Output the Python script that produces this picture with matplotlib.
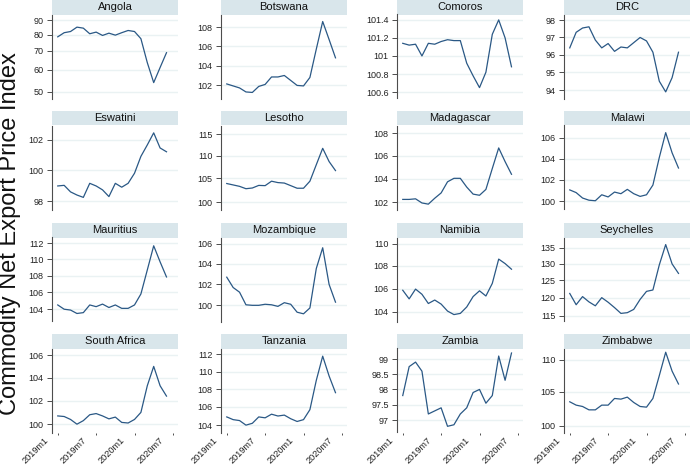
import matplotlib
matplotlib.use("Agg")
import matplotlib.pyplot as plt
from matplotlib.ticker import NullLocator
from matplotlib.transforms import ScaledTranslation

plt.rcParams['font.family'] = ['Liberation Sans', 'DejaVu Sans']

# monthly index, 2019m1 .. 2020m6
months = list(range(18))
xtick_pos = [0, 6, 12, 18]
xtick_labels = ['2019m1', '2019m7', '2020m1', '2020m7']

countries = ['Angola', 'Botswana', 'Comoros', 'DRC',
             'Eswatini', 'Lesotho', 'Madagascar', 'Malawi',
             'Mauritius', 'Mozambique', 'Namibia', 'Seychelles',
             'South Africa', 'Tanzania', 'Zambia', 'Zimbabwe']

angola = [78.5, 81.2, 82.0, 85.0, 84.3, 80.5, 81.6, 79.4, 80.9, 79.6, 81.2, 82.7, 82.0, 77.3, 63.5, 53.9, 61.0, 68.9]
botswana = [102.15, 101.95, 101.75, 101.35, 101.3, 101.9, 102.1, 102.85, 102.85, 103.0, 102.5, 102.0, 101.95, 102.8, 105.7, 108.6, 106.7, 104.8]
comoros = [101.14, 101.12, 101.13, 101.0, 101.14, 101.13, 101.16, 101.18, 101.17, 101.17, 100.92, 100.78, 100.65, 100.82, 101.24, 101.4, 101.2, 100.88]
drc = [96.4, 97.3, 97.55, 97.62, 96.85, 96.4, 96.65, 96.2, 96.45, 96.4, 96.7, 97.0, 96.8, 96.15, 94.5, 93.9, 94.7, 96.15]
eswatini = [98.98, 99.02, 98.6, 98.4, 98.25, 99.15, 98.98, 98.73, 98.3, 99.15, 98.9, 99.15, 99.8, 100.9, 101.65, 102.45, 101.45, 101.2]
lesotho = [103.9, 103.6, 103.3, 102.8, 102.95, 103.5, 103.45, 104.4, 104.1, 104.0, 103.45, 102.9, 102.9, 104.4, 108.0, 111.7, 108.7, 106.7]
madagascar = [102.25, 102.25, 102.3, 101.95, 101.85, 102.35, 102.8, 103.75, 104.05, 104.05, 103.3, 102.7, 102.6, 103.1, 104.9, 106.7, 105.5, 104.4]
malawi = [101.05, 100.8, 100.3, 100.1, 100.05, 100.6, 100.4, 100.85, 100.7, 101.1, 100.7, 100.45, 100.6, 101.5, 104.1, 106.5, 104.55, 103.1]
mauritius = [104.5, 104.0, 103.9, 103.5, 103.6, 104.5, 104.3, 104.6, 104.2, 104.5, 104.1, 104.1, 104.5, 105.8, 108.7, 111.7, 109.7, 107.85]
mozambique = [102.7, 101.7, 101.25, 100.05, 100.0, 100.0, 100.1, 100.05, 99.9, 100.25, 100.1, 99.35, 99.2, 99.75, 103.55, 105.6, 102.0, 100.3]
namibia = [105.85, 105.1, 105.95, 105.5, 104.7, 105.0, 104.65, 104.05, 103.75, 103.85, 104.4, 105.3, 105.8, 105.35, 106.45, 108.6, 108.2, 107.7]
seychelles = [121.2, 118.0, 120.3, 118.8, 117.7, 120.0, 118.7, 117.2, 115.6, 115.8, 116.7, 119.5, 121.8, 122.2, 129.7, 136.1, 130.0, 127.1]
south_africa = [100.7, 100.65, 100.4, 100.0, 100.3, 100.8, 100.9, 100.7, 100.45, 100.6, 100.15, 100.1, 100.4, 101.0, 103.3, 105.0, 103.3, 102.4]
tanzania = [104.9, 104.6, 104.5, 104.0, 104.2, 104.9, 104.8, 105.2, 105.0, 105.1, 104.7, 104.4, 104.6, 105.7, 109.0, 111.8, 109.5, 107.6]
zambia = [97.8, 98.75, 98.9, 98.6, 97.2, 97.3, 97.4, 96.8, 96.85, 97.2, 97.4, 97.9, 98.0, 97.55, 97.8, 99.1, 98.3, 99.2]
zimbabwe = [103.5, 103.0, 102.8, 102.3, 102.3, 103.0, 103.0, 104.0, 103.9, 104.2, 103.4, 102.8, 102.7, 104.0, 107.5, 111.2, 108.2, 106.2]

series = [angola, botswana, comoros, drc, eswatini, lesotho, madagascar, malawi,
          mauritius, mozambique, namibia, seychelles, south_africa, tanzania, zambia, zimbabwe]

yticks = [[50, 60, 70, 80, 90], [102, 104, 106, 108], [100.6, 100.8, 101, 101.2, 101.4], [94, 95, 96, 97, 98],
          [98, 100, 102], [100, 105, 110, 115], [102, 104, 106, 108], [100, 102, 104, 106],
          [104, 106, 108, 110, 112], [100, 102, 104, 106], [104, 106, 108, 110], [115, 120, 125, 130, 135],
          [100, 102, 104, 106], [104, 106, 108, 110, 112], [97, 97.5, 98, 98.5, 99], [100, 105, 110]]

ylims = [(47.3, 94.3), (100.7, 109.35), (100.53, 101.46), (93.53, 98.34),
         (97.48, 102.94), (98.5, 117.06), (101.4, 108.7), (99.25, 107.2),
         (102.57, 112.75), (98.48, 106.63), (103.16, 110.55), (113.4, 138.4),
         (99.3, 106.6), (103.2, 112.7), (96.6, 99.35), (99.0, 111.8)]

W, H = 692, 468
fig = plt.figure(figsize=(W / 100, H / 100), dpi=100, facecolor='white')

col_x = [52, 221, 397, 564]
row_top = [0, 111, 223, 334]
pw, ph, sh = 126, 84, 14.5

line_col = '#2a5885'
strip_col = '#d9e6eb'
grid_col = '#eaf2f3'
axis_col = '#4d4d4d'

# Stata puts the angled labels a bit left of their ticks
shift = ScaledTranslation(-14 / 100, 0, fig.dpi_scale_trans)

for i, name in enumerate(countries):
    r, c = divmod(i, 4)
    x0, top = col_x[c], row_top[r]

    # title strip
    sax = fig.add_axes([x0 / W, 1 - (top + sh) / H, pw / W, sh / H])
    sax.set_facecolor(strip_col)
    sax.set_xticks([]); sax.set_yticks([])
    for s in sax.spines.values():
        s.set_visible(False)
    sax.text(0.5, 0.5, name, ha='center', va='center', fontsize=8, color='#111111',
             transform=sax.transAxes)

    ax = fig.add_axes([x0 / W, 1 - (top + sh + ph) / H, pw / W, ph / H])
    ax.plot(months, series[i], color=line_col, lw=0.9)
    ax.set_yscale('log')
    ax.set_ylim(*ylims[i])
    ax.set_yticks(yticks[i], [f'{v:g}' for v in yticks[i]])
    ax.yaxis.set_minor_locator(NullLocator())
    ax.set_xlim(-0.9, 18.8)
    ax.grid(axis='y', color=grid_col, lw=1.0)
    ax.set_axisbelow(True)
    for side in ['top', 'right', 'bottom']:
        ax.spines[side].set_visible(False)
    ax.spines['left'].set_color(axis_col)
    ax.spines['left'].set_linewidth(0.8)
    ax.tick_params(axis='y', labelsize=6.5, length=3.5, width=0.7, color=axis_col, pad=2.5, labelcolor='#222222')
    if r == 3:
        ax.set_xticks(xtick_pos, xtick_labels, rotation=45, ha='right', rotation_mode='anchor')
        ax.tick_params(axis='x', labelsize=6.6, length=1.5, width=0.7, color=axis_col, pad=0.5, labelcolor='#222222')
        for lab in ax.get_xticklabels():
            lab.set_transform(lab.get_transform() + shift)
    else:
        ax.set_xticks([])

fig.text(10 / W, 0.5, 'Commodity Net Export Price Index', rotation=90, ha='center', va='center',
         fontsize=17, color='#111111')

fig.savefig('out.png', dpi=100, facecolor='white')
